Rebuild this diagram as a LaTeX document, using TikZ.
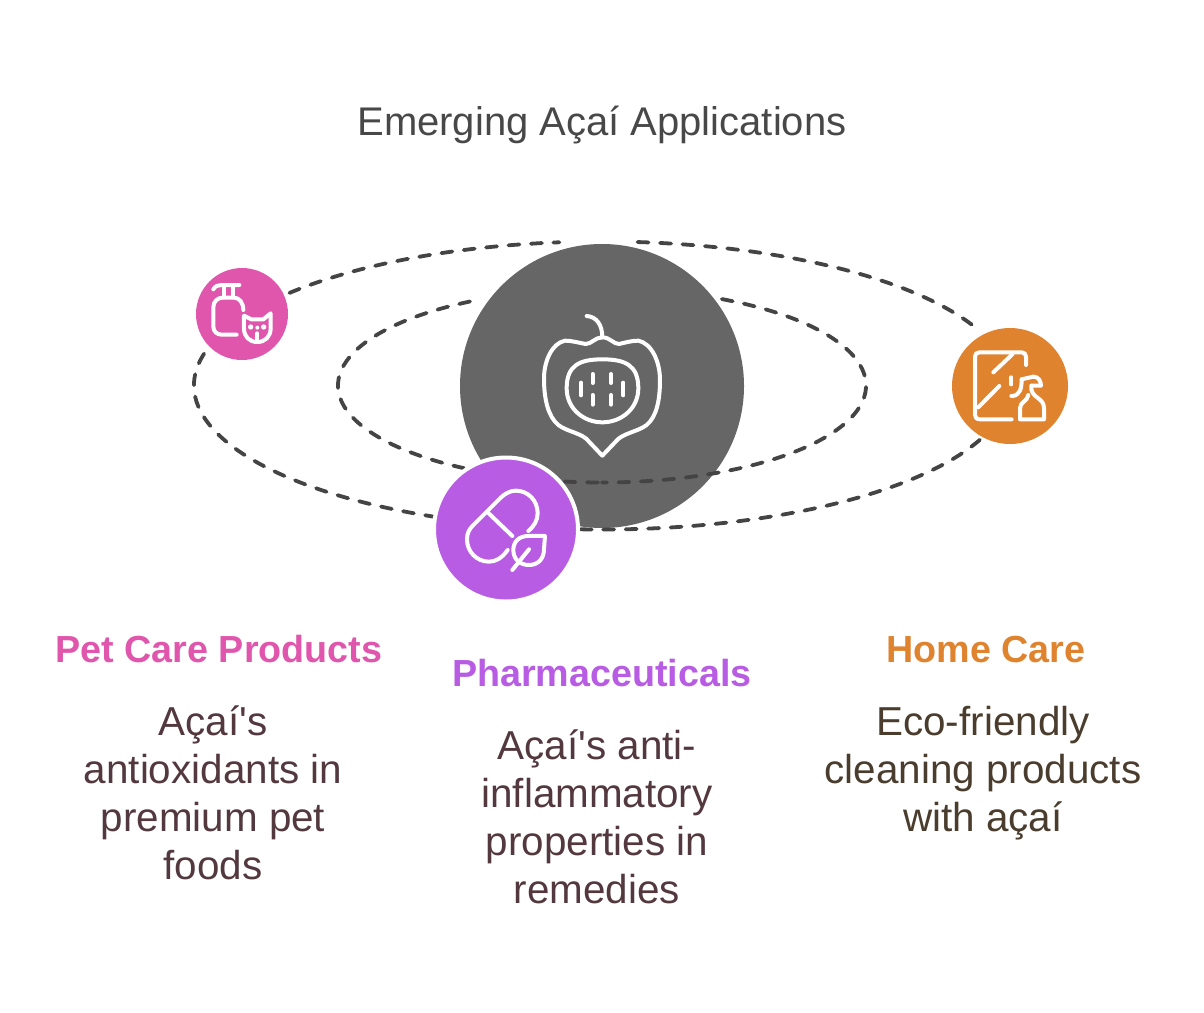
\documentclass[tikz,border=0pt]{standalone}
\usepackage{fontspec}
\setmainfont{Liberation Sans}[Ligatures=TeXOff]
\usepackage{xcolor}
\definecolor{petcol}{HTML}{E056AC}
\definecolor{pharmacol}{HTML}{B75CE3}
\definecolor{homecol}{HTML}{E0832F}
\definecolor{corecol}{HTML}{666666}
\definecolor{orbitcol}{HTML}{444444}
\definecolor{titlecol}{HTML}{484848}
\definecolor{petbody}{HTML}{53393F}
\definecolor{homebody}{HTML}{4A3D2E}
\tikzset{
  disc/.style={circle, inner sep=0pt, draw=none},
  orbit/.style={draw=orbitcol, line width=3.8pt, dash pattern=on 11pt off 11.5pt, line cap=round},
  glyph/.style={draw=white, line width=4pt, line cap=round, line join=round},
  headline/.style={font=\fontsize{37.7}{44}\selectfont\bfseries},
  bodytext/.style={font=\fontsize{40.4}{48}\selectfont, align=center, inner sep=0pt},
}

\begin{document}
\begin{tikzpicture}[x=1pt, y=-1pt]
  \useasboundingbox (0,0) rectangle (1204,1012);

  % Title
  \node[font=\fontsize{40}{44}\selectfont, text=titlecol] (title) at (602,125) {Emerging Açaí Applications};

  % Central disc
  \node[disc, fill=corecol, minimum size=284pt] (core) at (602,386) {};
  \coordinate (centre) at (602,385.5);

  % Orbits
  \draw[orbit] (centre) ++(-85:408 and 144) arc[start angle=-85, end angle=-24, x radius=408, y radius=144];
  \draw[orbit] (centre) ++(93:408 and 144) arc[start angle=93, end angle=22, x radius=408, y radius=144];
  \draw[orbit] (centre) ++(114:408 and 144) arc[start angle=114, end angle=194, x radius=408, y radius=144];
  \draw[orbit] (centre) ++(220:408 and 144) arc[start angle=220, end angle=264, x radius=408, y radius=144];
  \draw[orbit] (centre) ++(-63:264 and 97) arc[start angle=-63, end angle=90, x radius=264, y radius=97];
  \draw[orbit] (centre) ++(240:264 and 97) arc[start angle=240, end angle=90, x radius=264, y radius=97];

  % Outer discs
  \node[disc, fill=petcol, minimum size=92pt] (pet) at (242,314) {};
  \node[disc, fill=homecol, minimum size=116pt] (home) at (1010,386) {};
  \node[disc, fill=pharmacol, draw=white, line width=4pt, minimum size=144pt] (pharma) at (506,529.5) {};

  % Fruit icon
  \begin{scope}[shift={(520,300)}, scale=0.3333]
    \draw[glyph] (200,48) .. controls (230,50) and (247,75) .. (247,112);
    \draw[glyph] (247,112) .. controls (225,112) and (215,132) .. (197,132)
      .. controls (175,128) and (155,122) .. (135,122)
      .. controls (95,130) and (72,185) .. (72,235)
      .. controls (72,300) and (85,350) .. (115,375)
      .. controls (140,395) and (190,400) .. (207,425)
      -- (247,467) -- (287,425)
      .. controls (305,400) and (355,395) .. (380,375)
      .. controls (410,350) and (420,300) .. (420,240)
      .. controls (420,185) and (395,130) .. (355,122)
      .. controls (335,122) and (315,128) .. (297,132)
      .. controls (280,132) and (270,112) .. (247,112) -- cycle;
    \draw[glyph] (140,265) .. controls (140,195) and (180,178) .. (247,178)
      .. controls (315,178) and (355,195) .. (355,265)
      .. controls (355,325) and (305,367) .. (247,367)
      .. controls (190,367) and (140,325) .. (140,265) -- cycle;
    \foreach \xa/\ya/\yb in {183/248/286, 218/222/249, 218/285/314, 273/222/249, 273/285/314, 310/248/286}
      \draw[glyph] (\xa,\ya) -- (\xa,\yb);
  \end{scope}

  % Pet care icon
  \begin{scope}[shift={(180,250)}, scale=0.3333]
    \draw[glyph] (100,118) .. controls (105,108) and (115,105) .. (125,105) -- (178,105);
    \draw[glyph] (132,105) -- (132,142);
    \draw[glyph] (160,105) -- (160,142);
    \draw[glyph] (170,254) -- (125,254) .. controls (110,254) and (100,244) .. (100,229) -- (100,172)
      .. controls (100,155) and (112,143) .. (128,143) -- (162,143)
      .. controls (178,143) and (190,158) .. (190,180);
    \draw[glyph] (192,197) -- (214,208) -- (250,208) -- (272,190) -- (272,235)
      .. controls (272,260) and (255,276) .. (232,276)
      .. controls (208,276) and (192,260) .. (192,235) -- cycle;
    \fill[white] (212,231) circle (8) (251,231) circle (8) (232,233) circle (6);
    \draw[glyph] (232,250) -- (232,268);
  \end{scope}

  % Home care icon
  \begin{scope}[shift={(940,320)}, scale=0.3333]
    \draw[glyph] (215,298) -- (120,298) .. controls (110,298) and (105,293) .. (105,285) -- (105,110)
      .. controls (105,102) and (110,97) .. (118,97) -- (245,97)
      .. controls (253,97) and (258,102) .. (258,110) -- (258,135);
    \draw[glyph] (160,157) -- (217,103);
    \draw[glyph] (115,262) -- (178,198);
    \draw[glyph] (214,172) -- (214,193);
    \draw[glyph] (214,228) -- (216,228);
    \draw[glyph] (245,178) -- (280,170) .. controls (295,170) and (303,183) .. (303,197) -- (275,197);
    \draw[glyph] (245,178) .. controls (245,205) and (240,225) .. (218,228);
    \draw[glyph] (274,197) .. controls (272,215) and (280,225) .. (295,235)
      .. controls (305,243) and (312,250) .. (312,265) -- (312,298) -- (240,298) -- (240,265)
      .. controls (240,245) and (262,245) .. (265,225);
  \end{scope}

  % Pharmaceuticals icon
  \begin{scope}[shift={(425,450)}, scale=0.3333]
    \draw[glyph] (248,300) .. controls (230,325) and (212,335) .. (192,335)
      .. controls (155,335) and (126,305) .. (126,268)
      .. controls (126,250) and (132,238) .. (145,225) -- (225,145)
      .. controls (238,132) and (255,122) .. (272,122)
      .. controls (310,122) and (338,152) .. (338,190)
      .. controls (338,210) and (328,228) .. (310,243);
    \draw[glyph] (188,187) -- (262,258);
    \draw[glyph] (360,258) -- (310,258) .. controls (282,258) and (265,275) .. (265,300)
      .. controls (265,328) and (285,345) .. (312,345)
      .. controls (340,345) and (357,325) .. (357,298) -- cycle;
    \draw[glyph] (262,360) -- (312,298);
  \end{scope}

  % Labels
  \node[headline, text=petcol] (pethead) at (219,649) {Pet Care Products};
  \node[headline, text=pharmacol] (pharmahead) at (602,673) {Pharmaceuticals};
  \node[headline, text=homecol] (homehead) at (986,649.5) {Home Care};
  \node[bodytext, text=petbody, anchor=north] (pettext) at (213,706) {Açaí's\\antioxidants in\\premium pet\\foods};
  \node[bodytext, text=petbody, anchor=north] (pharmatext) at (597,730) {Açaí's anti-\\inflammatory\\properties in\\remedies};
  \node[bodytext, text=homebody, anchor=north] (hometext) at (983,706) {Eco-friendly\\cleaning products\\with açaí};
\end{tikzpicture}
\end{document}
